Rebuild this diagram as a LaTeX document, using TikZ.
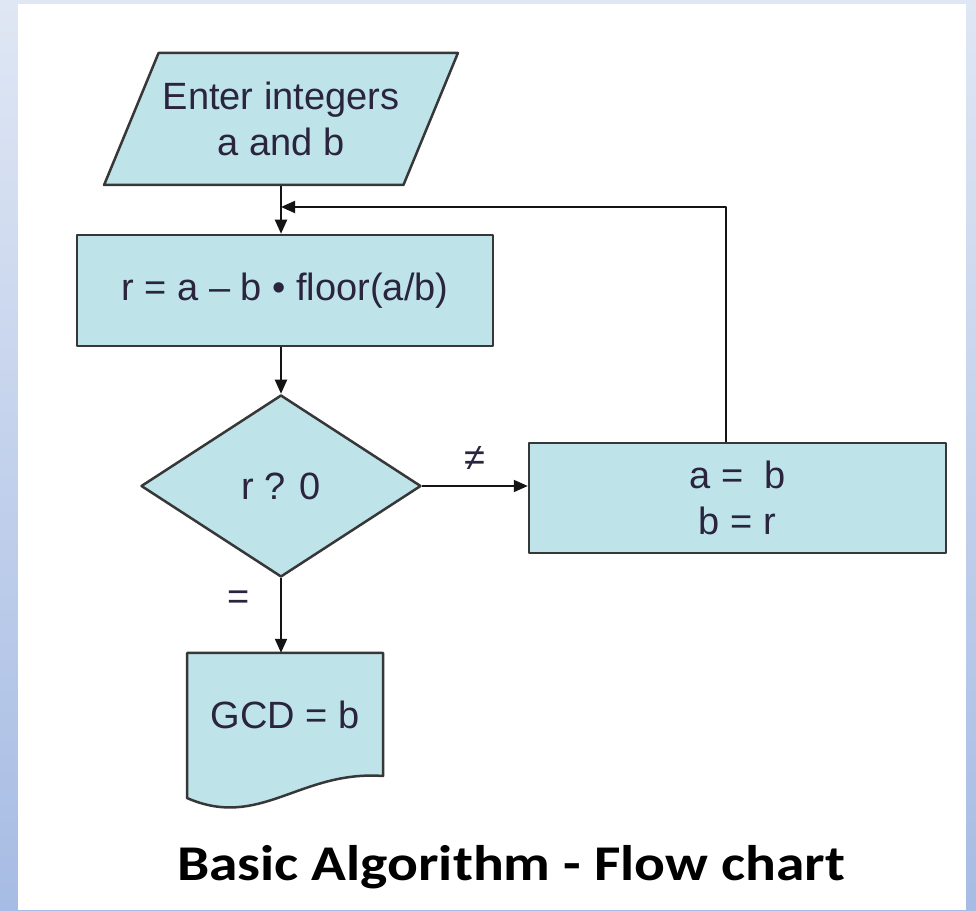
\documentclass[tikz,border=0pt]{standalone}
\usepackage{fontspec}
\setmainfont{Liberation Sans}
\newfontfamily\titlefont{Carlito}
\usetikzlibrary{shapes.geometric,arrows.meta}
\definecolor{boxfill}{RGB}{190,227,233}
\definecolor{boxline}{RGB}{55,55,55}
\definecolor{linkcol}{RGB}{20,20,20}
\definecolor{txt}{RGB}{42,36,62}
\definecolor{bgtop}{RGB}{223,231,244}
\definecolor{bgbot}{RGB}{167,188,228}
\begin{document}
\begin{tikzpicture}[x=1pt,y=1pt,line join=round,
	>={Triangle[length=14pt,width=12pt]},
	box/.style={draw=boxline,line width=2.5pt,fill=boxfill,text=txt,
		font=\fontsize{38}{46}\selectfont,align=center,inner sep=0pt},
	link/.style={->,draw=linkcol,line width=2pt},
	lbl/.style={text=txt,font=\fontsize{38}{46}\selectfont,inner sep=0pt}]
	% background
	\shade[top color=bgtop,bottom color=bgbot] (0,0) rectangle (976,910);
	\fill[white] (18,0) rectangle (966,906);
	\useasboundingbox (0,0) rectangle (976,910);
	% nodes
	\node[box,trapezium,trapezium left angle=62,trapezium right angle=118,
		trapezium stretches=true,minimum width=355pt,minimum height=132pt,
		inner xsep=-30pt] (in) at (281,791) {Enter integers\\a and b};
	\node[box,minimum width=416pt,minimum height=111pt] (proc) at (285,619.5) {r = a – b • floor(a/b)};
	\node[box,diamond,minimum width=280pt,minimum height=182pt] (dec) at (281,424) {r ? 0};
	\node[box,minimum width=417pt,minimum height=110pt] (upd) at (737.5,412) {a = \ b\\b = r};
	\filldraw[box] (187,257) -- (383,257) -- (383,134)
		.. controls (300,140) and (260,80) .. (187,112) -- cycle;
	\node[lbl,minimum width=196pt,minimum height=123pt] (out) at (285,195.5) {GCD = b};
	\node[font=\titlefont\bfseries\fontsize{50}{60}\selectfont,xscale=1.15,anchor=base]
		(title) at (511,30) {Basic Algorithm - Flow chart};
	\coordinate (turn) at (726,703);
	% connectors
	\draw[link] (in.south) -- (in.south |- proc.north);
	\draw[link] (proc.south -| dec.north) -- (dec.north);
	\draw[link] (dec.east) -- node[lbl,above=14pt]{≠} (dec.east -| upd.west);
	\draw[link] (dec.south) -- node[lbl,left=30pt,pos=.3]{=} (dec.south |- out.north);
	\draw[link] (upd.north -| turn) -- (turn) -- (turn -| in.south);
\end{tikzpicture}
\end{document}
